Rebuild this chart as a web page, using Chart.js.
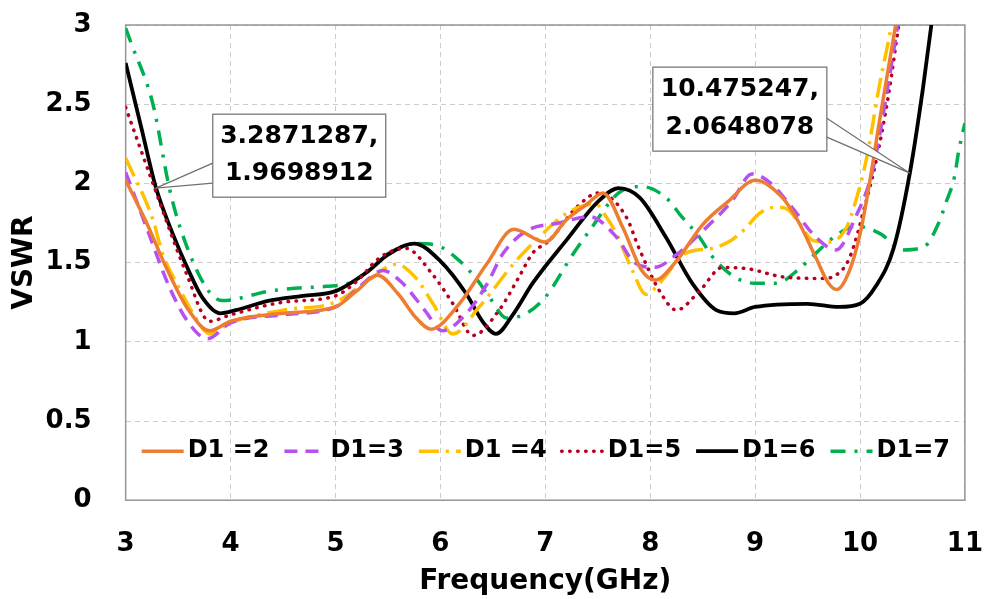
<!DOCTYPE html>
<html>
<head>
<meta charset="utf-8">
<script src="https://cdn.jsdelivr.net/npm/chart.js@4.4.1/dist/chart.umd.min.js"></script>
<style>
  html, body { margin: 0; padding: 0; background: #fff; }
  #wrap { width: 987px; height: 599px; }
</style>
</head>
<body>
<div id="wrap"><canvas id="vswr"></canvas></div>
<script>
// series names
const seriesNames = ['D1 =2', 'D1=3', 'D1 =4', 'D1=5', 'D1=6', 'D1=7'];

// D1 = 2
const freqD2 = [3.0, 3.2, 3.4, 3.6, 3.8, 4.0, 4.5, 5.0, 5.2, 5.4, 5.6, 5.77, 5.91, 6.18, 6.44, 6.7, 7.0, 7.2, 7.4, 7.55, 7.74, 7.92, 8.05, 8.25, 8.5, 8.75, 9.0, 9.26, 9.42, 9.58, 9.7, 9.78, 9.9, 10.0, 10.08, 10.2, 10.34, 10.45];
const vswrD2 = [2.02, 1.75, 1.45, 1.2, 1.07, 1.13, 1.18, 1.22, 1.32, 1.42, 1.30, 1.15, 1.08, 1.24, 1.49, 1.71, 1.63, 1.77, 1.87, 1.94, 1.72, 1.45, 1.39, 1.51, 1.74, 1.89, 2.02, 1.91, 1.75, 1.53, 1.37, 1.33, 1.45, 1.68, 1.96, 2.45, 3.0, 3.4];

// D1 = 3
const freqD3 = [3.0, 3.2, 3.42, 3.6, 3.78, 4.0, 4.5, 5.0, 5.25, 5.45, 5.64, 5.85, 6.02, 6.25, 6.44, 6.6, 6.82, 7.13, 7.42, 7.68, 7.85, 8.04, 8.25, 8.47, 8.78, 8.97, 9.15, 9.35, 9.58, 9.77, 9.96, 10.12, 10.25, 10.36, 10.46];
const vswrD3 = [2.07, 1.72, 1.34, 1.12, 1.02, 1.12, 1.17, 1.22, 1.36, 1.45, 1.37, 1.2, 1.07, 1.18, 1.36, 1.56, 1.70, 1.75, 1.79, 1.66, 1.5, 1.47, 1.55, 1.68, 1.89, 2.06, 2.0, 1.85, 1.66, 1.58, 1.79, 2.08, 2.55, 3.0, 3.4];

// D1 = 4
const freqD4 = [3.0, 3.26, 3.35, 3.51, 3.65, 3.8, 4.0, 4.5, 5.0, 5.3, 5.58, 5.77, 5.93, 6.12, 6.37, 6.72, 6.94, 7.2, 7.48, 7.58, 7.68, 7.83, 7.96, 8.09, 8.34, 8.59, 8.77, 8.9, 9.04, 9.2, 9.3, 9.42, 9.55, 9.7, 9.87, 9.96, 10.06, 10.18, 10.3, 10.4];
const vswrD4 = [2.16, 1.77, 1.56, 1.34, 1.17, 1.05, 1.12, 1.2, 1.25, 1.38, 1.49, 1.40, 1.24, 1.05, 1.22, 1.51, 1.66, 1.81, 1.87, 1.79, 1.68, 1.45, 1.30, 1.37, 1.56, 1.59, 1.64, 1.71, 1.81, 1.85, 1.84, 1.75, 1.64, 1.63, 1.72, 1.89, 2.15, 2.6, 3.0, 3.4];

// D1 = 5
const freqD5 = [3.0, 3.26, 3.58, 3.8, 4.0, 4.5, 5.0, 5.2, 5.42, 5.67, 5.92, 6.12, 6.31, 6.56, 6.75, 6.88, 7.04, 7.3, 7.51, 7.77, 7.9, 8.09, 8.25, 8.47, 8.69, 8.94, 9.26, 9.64, 9.77, 9.9, 10.06, 10.15, 10.27, 10.37, 10.47];
const vswrD5 = [2.48, 2.0, 1.43, 1.13, 1.17, 1.25, 1.29, 1.38, 1.53, 1.59, 1.43, 1.24, 1.04, 1.2, 1.41, 1.56, 1.64, 1.85, 1.94, 1.79, 1.58, 1.32, 1.20, 1.32, 1.47, 1.46, 1.41, 1.40, 1.42, 1.53, 1.89, 2.13, 2.55, 3.0, 3.4];

// D1 = 6
const freqD6 = [3.0, 3.15, 3.29, 3.45, 3.6, 3.73, 3.9, 4.05, 4.37, 4.69, 5.0, 5.3, 5.5, 5.75, 6.0, 6.25, 6.4, 6.53, 6.7, 6.88, 7.2, 7.51, 7.7, 7.9, 8.15, 8.4, 8.63, 8.8, 9.0, 9.5, 9.8, 10.0, 10.15, 10.32, 10.475, 10.6, 10.68, 10.75];
const vswrD6 = [2.76, 2.35, 1.97, 1.68, 1.45, 1.28, 1.18, 1.20, 1.26, 1.29, 1.32, 1.44, 1.55, 1.62, 1.51, 1.30, 1.13, 1.05, 1.18, 1.37, 1.64, 1.89, 1.97, 1.91, 1.66, 1.37, 1.20, 1.18, 1.22, 1.24, 1.22, 1.24, 1.35, 1.59, 2.065, 2.6, 3.0, 3.4];

// D1 = 7
const freqD7 = [3.0, 3.05, 3.26, 3.42, 3.54, 3.77, 3.92, 4.37, 4.66, 4.91, 5.13, 5.32, 5.51, 5.77, 5.96, 6.15, 6.34, 6.47, 6.63, 6.82, 7.01, 7.26, 7.42, 7.7, 7.92, 8.15, 8.3, 8.47, 8.59, 8.78, 8.99, 9.2, 9.42, 9.58, 9.77, 9.96, 10.2, 10.4, 10.61, 10.75, 10.82, 10.9, 10.94, 11.0];
const vswrD7 = [2.98, 2.89, 2.5, 1.96, 1.68, 1.34, 1.26, 1.32, 1.34, 1.35, 1.37, 1.45, 1.56, 1.62, 1.61, 1.53, 1.40, 1.28, 1.15, 1.18, 1.29, 1.55, 1.70, 1.94, 1.98, 1.91, 1.79, 1.66, 1.54, 1.42, 1.37, 1.37, 1.46, 1.56, 1.67, 1.73, 1.68, 1.58, 1.6, 1.75, 1.88, 2.04, 2.2, 2.38];

// tick values
const xTickValues = [3, 4, 5, 6, 7, 8, 9, 10, 11];
const yTickValues = [0, 0.5, 1, 1.5, 2, 2.5, 3];

// marked points (data labels)
const markX = [3.2871287, 10.475247];
const markY = [1.9698912, 2.0648078];

const pts = (xs, ys) => xs.map((x, i) => ({ x: x, y: ys[i] }));

// box placement relative to the marked point, in pixels
const markBoxes = [
    { dx: 57, dy: -74, w: 173, h: 83, side: 'left', w1: -25, w2: -5 },
    { dx: -257, dy: -106, w: 174, h: 84, side: 'right', w1: -55, w2: -36 }
];

const framePlugin = {
    id: 'frame',
    beforeDatasetsDraw(chart) {
        const { ctx, chartArea: a } = chart;
        ctx.save();
        ctx.strokeStyle = '#959595';
        ctx.lineWidth = 1.5;
        ctx.setLineDash([]);
        ctx.strokeRect(a.left, a.top, a.right - a.left, a.bottom - a.top);
        ctx.restore();
    }
};

const legendPlugin = {
    id: 'insideLegend',
    afterDatasetsDraw(chart) {
        const { ctx, chartArea: a } = chart;
        let x = a.left + 16;
        const y = a.bottom - 49;
        ctx.save();
        ctx.font = 'bold 24px "DejaVu Sans"';
        ctx.textBaseline = 'middle';
        ctx.textAlign = 'left';
        chart.data.datasets.forEach(ds => {
            ctx.strokeStyle = ds.borderColor;
            ctx.lineWidth = ds.borderWidth;
            ctx.lineCap = ds.borderCapStyle || 'butt';
            ctx.setLineDash(ds.borderDash || []);
            ctx.beginPath();
            ctx.moveTo(x, y);
            ctx.lineTo(x + 42, y);
            ctx.stroke();
            x += 46;
            ctx.fillStyle = '#000';
            ctx.fillText(ds.label, x, y);
            x += ctx.measureText(ds.label).width + 15;
        });
        ctx.restore();
    }
};

const calloutPlugin = {
    id: 'callouts',
    afterDatasetsDraw(chart) {
        const { ctx } = chart;
        const xs = chart.scales.x, ys = chart.scales.y;
        ctx.save();
        markX.forEach((fx, i) => {
            const b = markBoxes[i];
            const px = xs.getPixelForValue(fx);
            const py = ys.getPixelForValue(markY[i]);
            const left = px + b.dx, top = py + b.dy;
            const edge = b.side === 'left' ? left : left + b.w;

            ctx.setLineDash([]);
            ctx.lineWidth = 1.2;
            ctx.strokeStyle = '#6e6e6e';
            ctx.fillStyle = '#fff';
            ctx.beginPath();
            ctx.moveTo(edge, py + b.w1);
            ctx.lineTo(px, py);
            ctx.lineTo(edge, py + b.w2);
            ctx.fill();
            ctx.stroke();

            ctx.fillRect(left, top, b.w, b.h);
            ctx.strokeRect(left, top, b.w, b.h);

            ctx.fillStyle = '#000';
            ctx.font = 'bold 25px "DejaVu Sans"';
            ctx.textAlign = 'center';
            ctx.textBaseline = 'middle';
            ctx.fillText(fx + ',', left + b.w / 2, top + b.h * 0.27);
            ctx.fillText(String(markY[i]), left + b.w / 2, top + b.h * 0.72);
        });
        ctx.restore();
    }
};

Chart.defaults.font.family = '"DejaVu Sans"';
Chart.defaults.font.weight = 'bold';
Chart.defaults.color = '#000';

new Chart(document.getElementById('vswr'), {
    type: 'line',
    data: {
        datasets: [
            {
                label: seriesNames[0],
                data: pts(freqD2, vswrD2),
                borderColor: '#ED7D31',
                borderWidth: 3.5
            },
            {
                label: seriesNames[1],
                data: pts(freqD3, vswrD3),
                borderColor: '#B84FF0',
                borderWidth: 3.5,
                borderDash: [13, 8]
            },
            {
                label: seriesNames[2],
                data: pts(freqD4, vswrD4),
                borderColor: '#FFC000',
                borderWidth: 3.5,
                borderDash: [20, 7, 3, 7]
            },
            {
                label: seriesNames[3],
                data: pts(freqD5, vswrD5),
                borderColor: '#B5001F',
                borderWidth: 3.5,
                borderDash: [0.5, 7.5],
                borderCapStyle: 'round'
            },
            {
                label: seriesNames[4],
                data: pts(freqD6, vswrD6),
                borderColor: '#000000',
                borderWidth: 3.8
            },
            {
                label: seriesNames[5],
                data: pts(freqD7, vswrD7),
                borderColor: '#00B050',
                borderWidth: 3.5,
                borderDash: [15, 9, 3, 9]
            }
        ]
    },
    options: {
        responsive: true,
        maintainAspectRatio: false,
        animation: false,
        devicePixelRatio: 1,
        layout: {
            padding: { left: 8, right: 21, top: 25, bottom: 0 }
        },
        elements: {
            point: { radius: 0, hoverRadius: 0 },
            line: { cubicInterpolationMode: 'monotone', fill: false }
        },
        scales: {
            x: {
                type: 'linear',
                min: 3,
                max: 11,
                afterBuildTicks: scale => {
                    scale.ticks = xTickValues.map(v => ({ value: v }));
                },
                grid: {
                    color: '#cccccc',
                    lineWidth: 1,
                    drawTicks: true,
                    tickLength: 24,
                    tickColor: 'rgba(0,0,0,0)'
                },
                border: { display: false, dash: [5, 4] },
                ticks: {
                    padding: 4,
                    font: { size: 26, weight: 'bold' },
                    maxRotation: 0,
                    callback: v => String(v)
                },
                title: {
                    display: true,
                    text: 'Frequency(GHz)',
                    font: { size: 28, weight: 'bold' },
                    padding: { top: 2, bottom: 0 }
                }
            },
            y: {
                min: 0,
                max: 3,
                afterBuildTicks: scale => {
                    scale.ticks = yTickValues.map(v => ({ value: v }));
                },
                grid: {
                    color: '#cccccc',
                    lineWidth: 1,
                    drawTicks: true,
                    tickLength: 30,
                    tickColor: 'rgba(0,0,0,0)'
                },
                border: { display: false, dash: [5, 4] },
                ticks: {
                    padding: 4,
                    font: { size: 26, weight: 'bold' },
                    callback: v => String(v)
                },
                title: {
                    display: true,
                    text: 'VSWR',
                    font: { size: 28, weight: 'bold' },
                    padding: { top: 0, bottom: 0 }
                }
            }
        },
        plugins: {
            legend: { display: false },
            tooltip: { enabled: false }
        }
    },
    plugins: [framePlugin, legendPlugin, calloutPlugin]
});
</script>
</body>
</html>
